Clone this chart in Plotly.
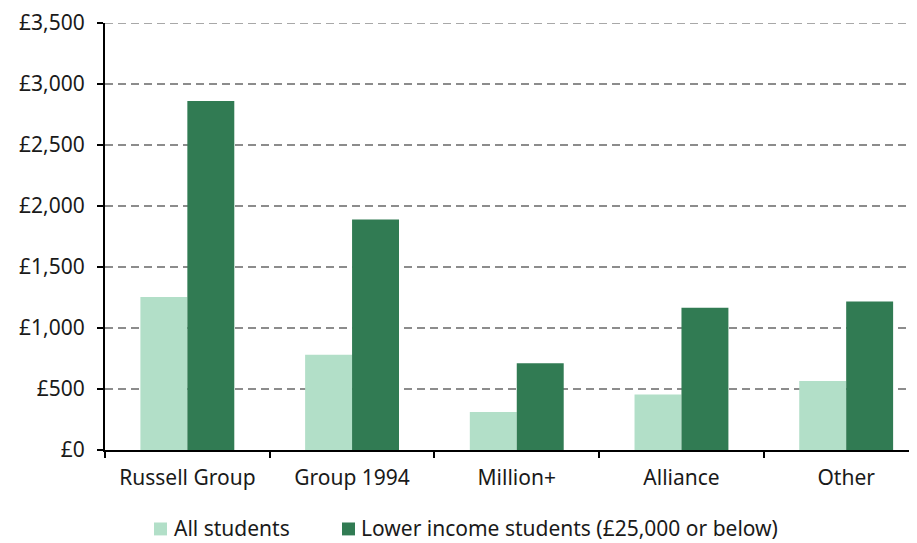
import plotly.graph_objects as go

categories = ["Russell Group", "Group 1994", "Million+", "Alliance", "Other"]
all_students = [1255, 780, 312, 455, 565]
lower_income = [2860, 1890, 712, 1165, 1217]
y_ticks = [0, 500, 1000, 1500, 2000, 2500, 3000, 3500]
y_tick_labels = ["£0", "£500", "£1,000", "£1,500", "£2,000", "£2,500", "£3,000", "£3,500"]
series_names = ["All students", "Lower income students (£25,000 or below)"]
series_colors = ["#b2dfc8", "#317b53"]

FONT = "Noto Sans"
FS = 21
TXT = "#1a1a1a"
GRID = "#8c8c8c"
GRID_DASH = "8px,5px"

# figure geometry (page body has an 8px margin)
W, H = 909, 535
ML, MT, MB = 97, 12, 93
PW, PH = W - ML, H - MT - MB


def px(xp):
    return (xp - ML) / PW


def py(yp):
    return (MT + PH - yp) / PH


fig = go.Figure()
for name, vals, col in zip(series_names, [all_students, lower_income], series_colors):
    fig.add_trace(go.Bar(name=name, x=categories, y=vals,
                         marker=dict(color=col, line=dict(width=0))))

# top gridline (plotly drops gridlines lying on the range end)
fig.add_shape(type="line", xref="paper", yref="y", x0=0, x1=1,
              y0=y_ticks[-1], y1=y_ticks[-1], layer="below",
              line=dict(color=GRID, width=1.6, dash=GRID_DASH))

# custom legend (tight marker/text spacing like the reference)
legend_sq_x = [146, 334]
legend_txt_x = [164, 351]
sq_top, sq_bot, txt_y = 515, 528, 521
for i in range(2):
    fig.add_shape(type="rect", xref="paper", yref="paper",
                  x0=px(legend_sq_x[i]), x1=px(legend_sq_x[i] + 13),
                  y0=py(sq_bot), y1=py(sq_top),
                  fillcolor=series_colors[i], line=dict(width=0))
    fig.add_annotation(xref="paper", yref="paper", x=px(legend_txt_x[i]), y=py(txt_y),
                       xanchor="left", yanchor="middle", showarrow=False,
                       text=series_names[i], font=dict(family=FONT, size=FS, color=TXT))

fig.update_layout(
    width=W, height=H,
    margin=dict(l=ML, r=0, t=MT, b=MB),
    paper_bgcolor="white", plot_bgcolor="white",
    barmode="group", bargap=0.43, bargroupgap=0,
    font=dict(family=FONT, size=FS, color=TXT),
    showlegend=False,
    xaxis=dict(range=[-0.5, 4.43], showline=True, linecolor="black", linewidth=2,
               ticks="outside", tickson="boundaries", ticklen=6, tickwidth=2, tickcolor="black",
               ticklabelstandoff=8,
               showgrid=False, tickfont=dict(family=FONT, size=FS, color=TXT)),
    yaxis=dict(range=[0, 3500], tickvals=y_ticks, ticktext=y_tick_labels,
               showline=True, linecolor="black", linewidth=2,
               ticks="outside", ticklen=6, tickwidth=2, tickcolor="black",
               ticklabelstandoff=8, ticklabeloverflow="allow",
               showgrid=True, gridcolor=GRID, griddash=GRID_DASH, gridwidth=1.6,
               zeroline=False, tickfont=dict(family=FONT, size=FS, color=TXT)),
)

fig.write_html("out.html")
